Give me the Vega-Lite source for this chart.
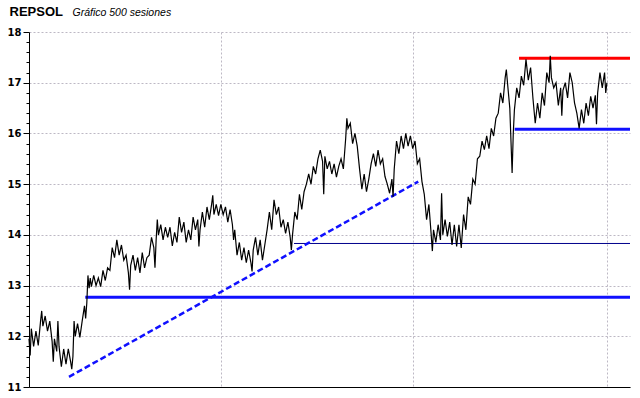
{
  "$schema": "https://vega.github.io/schema/vega-lite/v6.json",
  "width": 601,
  "height": 355,
  "autosize": {"type": "none"},
  "padding": {"left": 29, "top": 32, "right": 10, "bottom": 11},
  "background": "white",
  "config": {"view": {"stroke": null}},
  "datasets": {
    "prices": [
      {"s":0,"p":11.95},{"s":1,"p":11.62},{"s":2,"p":12.15},{"s":4,"p":11.8},{"s":6,"p":12.1},{"s":8,"p":11.82},{"s":10,"p":12.3},{"s":11,"p":12.5},{"s":12,"p":12.2},{"s":14,"p":12.4},{"s":16,"p":12.1},{"s":18,"p":12.3},{"s":20,"p":11.9},{"s":21,"p":11.5},{"s":22,"p":11.95},{"s":24,"p":11.7},{"s":25,"p":12.3},{"s":26,"p":11.8},{"s":28,"p":11.4},{"s":30,"p":11.75},{"s":32,"p":11.45},{"s":34,"p":11.75},{"s":36,"p":11.5},{"s":37,"p":11.35},{"s":38,"p":11.6},{"s":39,"p":12.3},{"s":40,"p":12.0},{"s":42,"p":12.25},{"s":44,"p":11.98},{"s":46,"p":12.3},{"s":48,"p":12.6},{"s":49,"p":12.35},{"s":50,"p":12.65},{"s":51,"p":13.2},{"s":52,"p":12.95},{"s":53,"p":13.15},{"s":54,"p":12.98},{"s":56,"p":13.2},{"s":58,"p":13.0},{"s":60,"p":13.15},{"s":62,"p":12.98},{"s":64,"p":13.3},{"s":66,"p":13.1},{"s":68,"p":13.35},{"s":70,"p":13.3},{"s":72,"p":13.75},{"s":74,"p":13.55},{"s":76,"p":13.9},{"s":78,"p":13.6},{"s":80,"p":13.8},{"s":82,"p":13.5},{"s":84,"p":13.6},{"s":86,"p":13.25},{"s":87,"p":12.92},{"s":88,"p":13.4},{"s":90,"p":13.6},{"s":92,"p":13.3},{"s":94,"p":13.55},{"s":96,"p":13.25},{"s":98,"p":13.65},{"s":100,"p":13.35},{"s":102,"p":13.55},{"s":104,"p":13.6},{"s":106,"p":13.95},{"s":108,"p":13.75},{"s":109,"p":13.35},{"s":110,"p":13.9},{"s":111,"p":14.3},{"s":112,"p":14.0},{"s":114,"p":14.2},{"s":116,"p":13.9},{"s":118,"p":14.15},{"s":120,"p":13.95},{"s":122,"p":14.15},{"s":124,"p":13.78},{"s":126,"p":14.05},{"s":128,"p":13.85},{"s":130,"p":14.35},{"s":132,"p":14.05},{"s":134,"p":14.25},{"s":136,"p":13.85},{"s":138,"p":14.1},{"s":140,"p":13.9},{"s":142,"p":14.35},{"s":144,"p":14.1},{"s":146,"p":14.3},{"s":147,"p":13.77},{"s":148,"p":14.1},{"s":150,"p":14.45},{"s":152,"p":14.15},{"s":154,"p":14.55},{"s":156,"p":14.3},{"s":158,"p":14.6},{"s":159,"p":14.78},{"s":160,"p":14.4},{"s":162,"p":14.6},{"s":164,"p":14.38},{"s":166,"p":14.6},{"s":168,"p":14.4},{"s":170,"p":14.55},{"s":172,"p":14.25},{"s":174,"p":14.5},{"s":176,"p":14.2},{"s":177,"p":13.9},{"s":178,"p":14.1},{"s":180,"p":13.6},{"s":182,"p":13.85},{"s":184,"p":13.5},{"s":186,"p":13.75},{"s":188,"p":13.45},{"s":190,"p":13.7},{"s":192,"p":13.45},{"s":193,"p":13.28},{"s":194,"p":13.7},{"s":196,"p":13.95},{"s":198,"p":13.6},{"s":200,"p":13.9},{"s":202,"p":13.5},{"s":204,"p":13.8},{"s":206,"p":14.1},{"s":208,"p":14.45},{"s":210,"p":14.1},{"s":212,"p":14.69},{"s":214,"p":14.4},{"s":216,"p":14.55},{"s":218,"p":14.15},{"s":220,"p":14.3},{"s":222,"p":14.03},{"s":224,"p":14.25},{"s":226,"p":13.95},{"s":227,"p":13.7},{"s":228,"p":14.0},{"s":230,"p":14.45},{"s":232,"p":14.3},{"s":234,"p":14.8},{"s":236,"p":14.5},{"s":238,"p":14.85},{"s":240,"p":15.0},{"s":242,"p":15.2},{"s":244,"p":15.0},{"s":246,"p":15.35},{"s":248,"p":15.2},{"s":250,"p":15.5},{"s":252,"p":15.67},{"s":254,"p":15.45},{"s":255,"p":14.8},{"s":256,"p":15.55},{"s":258,"p":15.3},{"s":260,"p":15.45},{"s":262,"p":15.2},{"s":264,"p":15.4},{"s":266,"p":15.14},{"s":268,"p":15.35},{"s":270,"p":15.5},{"s":272,"p":15.3},{"s":274,"p":15.9},{"s":275,"p":16.3},{"s":276,"p":16.1},{"s":278,"p":16.2},{"s":280,"p":15.8},{"s":282,"p":16.0},{"s":284,"p":15.75},{"s":286,"p":15.3},{"s":288,"p":14.9},{"s":290,"p":15.2},{"s":292,"p":14.85},{"s":294,"p":15.1},{"s":296,"p":15.4},{"s":298,"p":15.6},{"s":300,"p":15.35},{"s":302,"p":15.67},{"s":304,"p":15.4},{"s":306,"p":15.5},{"s":308,"p":15.15},{"s":310,"p":15.0},{"s":312,"p":14.82},{"s":314,"p":15.1},{"s":315,"p":14.75},{"s":316,"p":15.3},{"s":318,"p":15.85},{"s":320,"p":15.6},{"s":322,"p":15.95},{"s":324,"p":15.7},{"s":326,"p":16.0},{"s":328,"p":15.75},{"s":330,"p":15.95},{"s":332,"p":15.7},{"s":334,"p":15.85},{"s":336,"p":15.4},{"s":338,"p":15.5},{"s":340,"p":15.05},{"s":342,"p":14.8},{"s":344,"p":14.3},{"s":346,"p":14.6},{"s":348,"p":14.0},{"s":349,"p":13.68},{"s":350,"p":14.1},{"s":352,"p":13.85},{"s":354,"p":14.2},{"s":356,"p":13.9},{"s":357,"p":14.82},{"s":358,"p":14.0},{"s":360,"p":14.3},{"s":362,"p":13.97},{"s":364,"p":14.25},{"s":366,"p":13.8},{"s":368,"p":14.2},{"s":370,"p":13.77},{"s":372,"p":14.2},{"s":374,"p":13.74},{"s":376,"p":14.4},{"s":378,"p":14.1},{"s":380,"p":14.75},{"s":382,"p":14.6},{"s":384,"p":15.1},{"s":386,"p":15.0},{"s":388,"p":15.5},{"s":390,"p":15.55},{"s":392,"p":15.85},{"s":394,"p":15.68},{"s":396,"p":15.95},{"s":398,"p":15.7},{"s":400,"p":16.1},{"s":402,"p":15.95},{"s":404,"p":16.3},{"s":406,"p":16.4},{"s":408,"p":16.8},{"s":410,"p":16.6},{"s":412,"p":17.1},{"s":413,"p":17.26},{"s":414,"p":17.0},{"s":416,"p":16.5},{"s":418,"p":15.22},{"s":419,"p":16.0},{"s":420,"p":16.47},{"s":422,"p":16.9},{"s":424,"p":16.7},{"s":426,"p":17.13},{"s":428,"p":16.95},{"s":430,"p":17.46},{"s":432,"p":17.05},{"s":434,"p":17.3},{"s":436,"p":16.7},{"s":438,"p":16.2},{"s":440,"p":16.6},{"s":442,"p":16.3},{"s":444,"p":16.8},{"s":446,"p":16.55},{"s":448,"p":17.2},{"s":450,"p":17.0},{"s":451,"p":17.53},{"s":452,"p":17.1},{"s":454,"p":16.9},{"s":456,"p":17.0},{"s":458,"p":16.55},{"s":460,"p":16.9},{"s":461,"p":16.35},{"s":462,"p":16.85},{"s":464,"p":17.0},{"s":466,"p":16.7},{"s":468,"p":17.2},{"s":470,"p":17.0},{"s":472,"p":16.6},{"s":474,"p":16.4},{"s":476,"p":16.1},{"s":478,"p":16.47},{"s":480,"p":16.2},{"s":482,"p":16.6},{"s":484,"p":16.35},{"s":486,"p":16.73},{"s":488,"p":16.5},{"s":490,"p":16.75},{"s":491,"p":16.18},{"s":492,"p":16.8},{"s":494,"p":17.2},{"s":496,"p":16.9},{"s":498,"p":17.2},{"s":499,"p":16.8},{"s":500,"p":17.0}
    ],
    "levels": [
      {"level": "resistencia", "start": 424, "end": 520, "price": 17.48},
      {"level": "soporte alto", "start": 420.2, "end": 520, "price": 16.08},
      {"level": "soporte medio", "start": 229.3, "end": 520, "price": 13.83},
      {"level": "soporte bajo", "start": 48.7, "end": 520, "price": 12.77}
    ],
    "trend": [
      {"s": 34.6, "p": 11.2},
      {"s": 336.8, "p": 15.05}
    ]
  },
  "resolve": {"axis": {"y": "independent"}},
  "layer": [
    {
      "layer": [
        {
          "data": {"name": "levels"},
          "transform": [{"filter": "datum.level === 'resistencia'"}],
          "mark": {"type": "rule", "color": "#ff0000", "strokeWidth": 3},
          "encoding": {
            "x": {"field": "start", "type": "quantitative"},
            "x2": {"field": "end"},
            "y": {"field": "price", "type": "quantitative"}
          }
        },
        {
          "data": {"name": "levels"},
          "transform": [{"filter": "datum.level === 'soporte alto' || datum.level === 'soporte bajo'"}],
          "mark": {"type": "rule", "color": "#1010ff", "strokeWidth": 3},
          "encoding": {
            "x": {"field": "start", "type": "quantitative"},
            "x2": {"field": "end"},
            "y": {"field": "price", "type": "quantitative"}
          }
        },
        {
          "data": {"name": "levels"},
          "transform": [{"filter": "datum.level === 'soporte medio'"}],
          "mark": {"type": "rule", "color": "#00008b", "strokeWidth": 1},
          "encoding": {
            "x": {"field": "start", "type": "quantitative"},
            "x2": {"field": "end"},
            "y": {"field": "price", "type": "quantitative"}
          }
        },
        {
          "data": {"name": "trend"},
          "mark": {"type": "line", "color": "#1010ff", "strokeWidth": 2.5, "strokeDash": [6, 3]},
          "encoding": {
            "x": {"field": "s", "type": "quantitative"},
            "y": {"field": "p", "type": "quantitative"}
          }
        }
      ],
      "encoding": {
        "y": {
          "scale": {"domain": [11, 18], "nice": false, "zero": false},
          "axis": {
            "orient": "left",
            "values": [11.2, 11.4, 11.6, 11.8, 12.2, 12.4, 12.6, 12.8, 13.2, 13.4, 13.6, 13.8, 14.2, 14.4, 14.6, 14.8, 15.2, 15.4, 15.6, 15.8, 16.2, 16.4, 16.6, 16.8, 17.2, 17.4, 17.6, 17.8],
            "labels": false, "grid": false, "domain": false,
            "tickSize": 3, "tickColor": "black",
            "title": null
          }
        }
      }
    },
    {
      "data": {"name": "prices"},
      "mark": {"type": "line", "color": "black", "strokeWidth": 1.2},
      "encoding": {
        "x": {
          "field": "s", "type": "quantitative",
          "scale": {"domain": [0, 520], "nice": false, "zero": false},
          "axis": {
            "values": [166, 332.5, 500],
            "labels": false, "ticks": false,
            "domainColor": "black",
            "grid": true, "gridColor": "#bdb8c4", "gridDash": [2, 2],
            "title": "REPSOL",
            "titleX": -20, "titleY": -372,
            "titleAlign": "left", "titleBaseline": "alphabetic",
            "titleFont": "Liberation Sans", "titleFontSize": 13, "titleFontWeight": "bold", "titleColor": "black"
          }
        },
        "y": {
          "field": "p", "type": "quantitative",
          "scale": {"domain": [11, 18], "nice": false, "zero": false},
          "axis": {
            "orient": "left",
            "values": [11, 12, 13, 14, 15, 16, 17, 18],
            "format": "d",
            "labelOverlap": false,
            "labelFont": "DejaVu Sans", "labelFontSize": 10, "labelFontWeight": "bold", "labelColor": "black",
            "labelPadding": 2,
            "tickSize": 6,
            "tickColor": "black",
            "domainColor": "black",
            "grid": true, "gridColor": "#bdb8c4", "gridDash": [2, 2],
            "title": "Gráfico 500 sesiones",
            "titleAngle": 0, "titleX": 43, "titleY": -17,
            "titleAlign": "left", "titleBaseline": "alphabetic",
            "titleFont": "Liberation Sans", "titleFontSize": 10.5, "titleFontStyle": "italic", "titleFontWeight": "normal", "titleColor": "black"
          }
        }
      }
    }
  ]
}
